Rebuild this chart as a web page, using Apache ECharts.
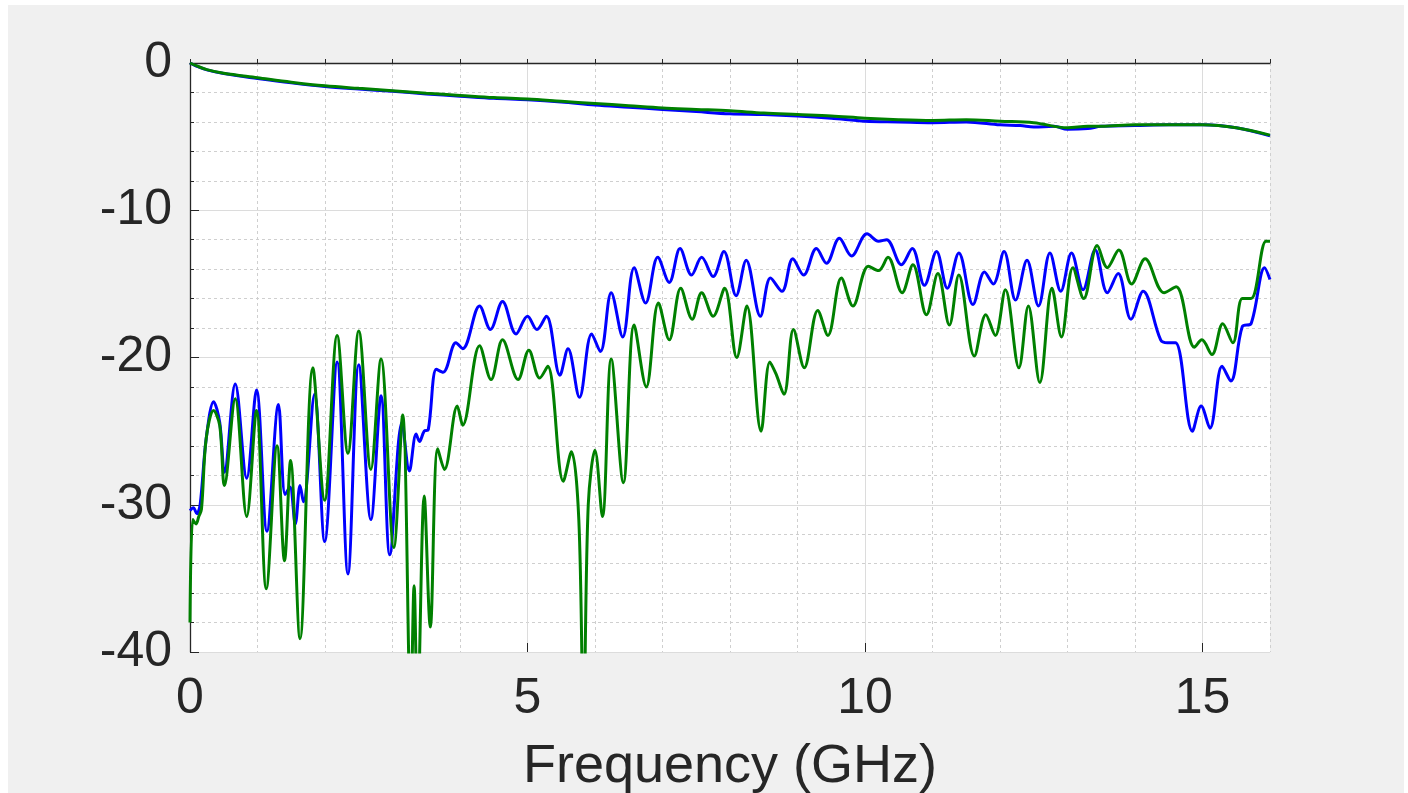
<!DOCTYPE html>
<html>
<head>
<meta charset="utf-8">
<script src="https://cdn.jsdelivr.net/npm/echarts@6/dist/echarts.min.js"></script>
<style>
html,body{margin:0;padding:0;background:#ffffff;}
#bg{position:absolute;left:8px;top:5px;width:1396px;height:788px;background:#f0f0f0;}
#chart{position:absolute;left:0;top:0;width:1408px;height:793px;}
</style>
</head>
<body>
<div id="bg"></div>
<div id="chart"></div>
<script>
// Frequency (GHz), magnitude (dB)
const xTicksMajor = [0, 5, 10, 15];
const yTicksMajor = [0, -10, -20, -30, -40];
const xLabel = 'Frequency (GHz)';

// Upper traces (insertion loss)
const blueTop = [
  [0, 0], [0.1, -0.22], [0.25, -0.47], [0.5, -0.72], [1, -1.05], [1.5, -1.35], [2, -1.6], [2.5, -1.77],
  [3, -1.92], [3.5, -2.1], [4, -2.25], [4.5, -2.4], [5, -2.5], [5.5, -2.65], [6, -2.85], [6.5, -3.0],
  [7, -3.15], [7.5, -3.3], [8, -3.45], [8.5, -3.5], [9, -3.6], [9.5, -3.75], [10, -3.95], [10.5, -4.0],
  [11, -4.05], [11.5, -4.0], [12, -4.2], [12.3, -4.25], [12.5, -4.35], [12.8, -4.3], [13, -4.5],
  [13.3, -4.45], [13.5, -4.3], [14, -4.25], [14.5, -4.2], [15, -4.2], [15.5, -4.4], [16, -4.95]
];
const greenTop = [
  [0, 0], [0.1, -0.2], [0.25, -0.45], [0.5, -0.7], [1, -1.0], [1.5, -1.3], [2, -1.55], [2.5, -1.72],
  [3, -1.88], [3.5, -2.05], [4, -2.2], [4.5, -2.35], [5, -2.45], [5.5, -2.6], [6, -2.75], [6.5, -2.9],
  [7, -3.05], [7.5, -3.15], [8, -3.25], [8.5, -3.4], [9, -3.5], [9.5, -3.6], [10, -3.75], [10.5, -3.85],
  [11, -3.9], [11.5, -3.85], [12, -3.95], [12.5, -4.05], [13, -4.4], [13.3, -4.3], [13.5, -4.3],
  [14, -4.2], [14.5, -4.2], [15, -4.2], [15.5, -4.4], [16, -4.9]
];

// Lower traces (return loss)
const blueBottom = [
  [0, -30.4], [0.05, -30.2], [0.1, -30.6], [0.15, -30.0], [0.24, -25.5], [0.35, -23.0], [0.44, -24.4],
  [0.51, -27.8], [0.67, -21.8], [0.84, -28.2], [0.985, -22.2], [1.14, -31.8], [1.31, -23.2], [1.41, -29.3],
  [1.48, -28.8], [1.56, -31.3], [1.63, -28.7], [1.68, -29.8], [1.845, -22.5], [1.995, -32.5], [2.18, -20.3],
  [2.34, -34.7], [2.50, -20.5], [2.68, -31.0], [2.83, -22.6], [2.96, -33.4], [3.14, -24.4], [3.25, -27.7],
  [3.35, -25.2], [3.40, -25.7], [3.47, -25.0], [3.53, -24.9], [3.65, -20.8], [3.75, -21.0], [3.94, -19.0],
  [4.04, -19.4], [4.29, -16.5], [4.45, -18.1], [4.63, -16.2], [4.83, -18.4], [5.0, -17.2], [5.14, -18.1],
  [5.28, -17.2], [5.48, -21.2], [5.60, -19.4], [5.77, -22.7], [5.95, -18.4], [6.08, -19.6], [6.24, -15.6],
  [6.41, -18.6], [6.58, -13.9], [6.75, -16.3], [6.93, -13.2], [7.10, -14.9], [7.26, -12.6], [7.43, -14.4],
  [7.58, -13.2], [7.75, -14.5], [7.91, -12.8], [8.09, -15.8], [8.24, -13.4], [8.45, -17.2], [8.60, -14.6],
  [8.77, -15.5], [8.93, -13.3], [9.09, -14.4], [9.28, -12.6], [9.43, -13.6], [9.62, -11.9], [9.80, -13.1],
  [10.03, -11.6], [10.20, -12.1], [10.32, -12.0], [10.54, -13.7], [10.70, -12.6], [10.88, -15.1],
  [11.06, -12.8], [11.22, -15.3], [11.39, -12.9], [11.60, -16.4], [11.77, -14.2], [11.90, -15.0],
  [12.06, -12.8], [12.23, -16.1], [12.40, -13.4], [12.57, -16.5], [12.74, -12.9], [12.90, -15.5],
  [13.06, -12.9], [13.23, -15.4], [13.41, -12.7], [13.59, -15.6], [13.75, -14.3], [13.94, -17.4],
  [14.12, -15.5], [14.38, -18.8], [14.48, -19.0], [14.60, -19.0], [14.85, -25.0], [14.98, -23.3],
  [15.11, -24.8], [15.29, -20.6], [15.42, -21.6], [15.59, -17.9], [15.72, -17.7], [15.92, -13.9], [16.0, -14.7]
];
const greenBottom = [
  [0, -38.0], [0.04, -31.0], [0.09, -31.3], [0.13, -30.8], [0.17, -30.3], [0.24, -25.5], [0.35, -23.6],
  [0.44, -24.6], [0.51, -28.7], [0.67, -22.8], [0.84, -30.8], [0.985, -23.6], [1.13, -35.7], [1.29, -26.0],
  [1.40, -33.8], [1.49, -27.0], [1.63, -39.1], [1.82, -20.7], [1.995, -29.7],
  [2.18, -18.5], [2.34, -26.5], [2.50, -18.2], [2.68, -27.6], [2.83, -20.1], [3.02, -32.9], [3.15, -23.9],
  [3.27, -44.0], [3.32, -35.5], [3.37, -44.0], [3.47, -29.4],
  [3.56, -38.3], [3.67, -26.2], [3.77, -27.6], [3.96, -23.3], [4.04, -24.6], [4.29, -19.2],
  [4.46, -21.5], [4.63, -18.8], [4.86, -21.5], [5.02, -19.5], [5.18, -21.4], [5.30, -20.6], [5.53, -28.4],
  [5.65, -26.4], [5.76, -31.0], [5.83, -45.0], [5.90, -30.0], [6.0, -26.3],
  [6.11, -30.8], [6.24, -20.1], [6.42, -28.5], [6.58, -17.8], [6.76, -22.0], [6.94, -16.3], [7.10, -18.8],
  [7.27, -15.3], [7.44, -17.4], [7.58, -15.6], [7.75, -17.2], [7.92, -15.3], [8.10, -20.0], [8.25, -16.5],
  [8.46, -25.0], [8.59, -20.3], [8.68, -21.1], [8.80, -22.5], [8.94, -18.1], [9.10, -20.7], [9.30, -16.8],
  [9.45, -18.5], [9.65, -14.6], [9.82, -16.5], [10.05, -13.8], [10.20, -14.1], [10.34, -13.2], [10.55, -15.6],
  [10.71, -13.7], [10.91, -17.1], [11.08, -14.3], [11.25, -17.8], [11.39, -14.4], [11.62, -19.9],
  [11.79, -17.1], [11.93, -18.5], [12.08, -15.4], [12.28, -20.7], [12.42, -16.5], [12.59, -21.7],
  [12.77, -15.3], [12.91, -18.6], [13.08, -13.9], [13.24, -16.0], [13.44, -12.4], [13.59, -13.9],
  [13.76, -12.7], [13.95, -15.0], [14.15, -13.3], [14.43, -15.6], [14.61, -15.2], [14.88, -19.3],
  [14.99, -18.8], [15.14, -19.8], [15.30, -17.7], [15.45, -19.0], [15.59, -16.0], [15.72, -16.0],
  [15.94, -12.1], [16.0, -12.1]
];

const FONT = '"Liberation Sans", Arial, Helvetica, sans-serif';
const TEXT = '#262626';
const BLUE = '#0000ff';
const GREEN = '#008000';

function lineSeries(data, color) {
  return {
    type: 'line', data: data, showSymbol: false, smooth: 0.35,
    lineStyle: { color: color, width: 3 }, itemStyle: { color: color },
    animation: false, clip: true, z: 3
  };
}

const chart = echarts.init(document.getElementById('chart'), null, { renderer: 'canvas' });
chart.setOption({
  backgroundColor: 'transparent',
  animation: false,
  grid: {
    left: 190, right: 138, top: 63, bottom: 141, show: true, backgroundColor: '#ffffff', borderWidth: 0,
    containLabel: false, outerBoundsMode: 'none'
  },
  xAxis: [
    {
      type: 'value', min: 0, max: 16, interval: 1,
      axisLine: { show: true, lineStyle: { color: TEXT, width: 1.3 } },
      axisTick: { show: true, inside: true, length: 4, lineStyle: { color: TEXT, width: 1 } },
      axisLabel: { show: false },
      splitLine: { show: true, lineStyle: { color: '#cfcfcf', width: 1, type: [3, 3] } }
    },
    {
      type: 'value', min: 0, max: 16, interval: 5, position: 'bottom',
      axisLine: { show: false },
      axisTick: { show: true, inside: true, length: 9, lineStyle: { color: TEXT, width: 1 } },
      axisLabel: {
        show: true, fontSize: 50, color: TEXT, fontFamily: FONT, margin: 22, showMaxLabel: false,
        formatter: function (v) { return xTicksMajor.indexOf(v) >= 0 ? String(v) : ''; }
      },
      splitLine: { show: true, showMaxLine: false, lineStyle: { color: '#dcdcdc', width: 1 } },
      name: xLabel, nameLocation: 'middle', nameGap: 88,
      nameTextStyle: { fontSize: 54, color: TEXT, fontFamily: FONT }
    }
  ],
  yAxis: {
    type: 'value', min: -40, max: 0, interval: 10,
    axisLine: { show: true, lineStyle: { color: TEXT, width: 1.3 } },
    axisTick: { show: true, inside: true, length: 9, lineStyle: { color: TEXT, width: 1 } },
    minorTick: { show: true, splitNumber: 5, length: 4, lineStyle: { color: TEXT, width: 1 } },
    minorSplitLine: { show: true, lineStyle: { color: '#cfcfcf', width: 1, type: [3, 3] } },
    splitLine: { show: true, lineStyle: { color: '#dcdcdc', width: 1 } },
    axisLabel: {
      fontSize: 50, color: TEXT, fontFamily: FONT, margin: 18,
      formatter: function (v) { return yTicksMajor.indexOf(v) >= 0 ? String(v) : ''; }
    }
  },
  series: [
    lineSeries(blueTop, BLUE),
    lineSeries(blueBottom, BLUE),
    lineSeries(greenTop, GREEN),
    lineSeries(greenBottom, GREEN)
  ]
});
</script>
</body>
</html>
